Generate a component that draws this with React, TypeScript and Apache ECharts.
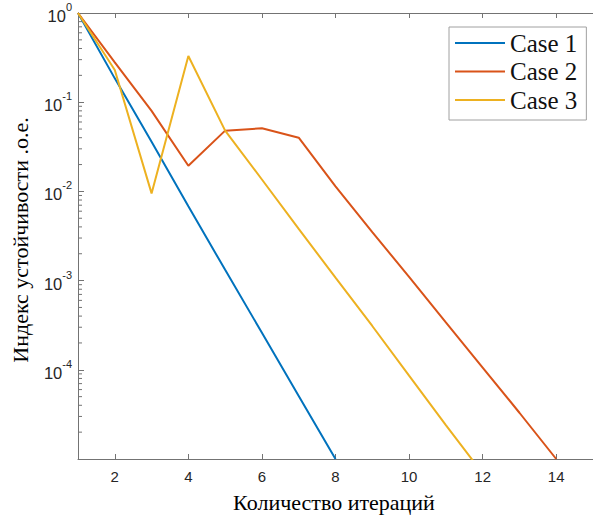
import React, { useEffect, useRef } from "react";
import * as echarts from "echarts";

const seriesNames = ["Case 1", "Case 2", "Case 3"];
const seriesColors = ["#0072BD", "#D95319", "#EDB120"];

const case1X = [1, 2, 3, 4, 5, 6, 7, 8];
const case1Y = [1, 0.185, 0.036, 0.0068, 0.00132, 0.00026, 5.1e-5, 1.0e-5];

const case2X = [1, 2, 3, 4, 5, 6, 7, 8, 9, 10, 11, 12, 13, 14];
const case2Y = [1, 0.28, 0.08, 0.0194, 0.048, 0.051, 0.04, 0.0114, 0.0035, 0.0011, 0.00034, 0.000106, 3.3e-5, 1.0e-5];

const case3X = [1, 2, 3, 4, 5, 6, 7, 8, 9, 10, 11, 12];
const case3Y = [1, 0.23, 0.0095, 0.33, 0.048, 0.0136, 0.0038, 0.00108, 0.00031, 8.6e-5, 2.4e-5, 6.9e-6];

const xTicks = [2, 4, 6, 8, 10, 12, 14];
const yDecades = [1e-5, 1e-4, 1e-3, 1e-2, 1e-1, 1];
const minorMultipliers = [2, 3, 4, 5, 6, 7, 8, 9];

const xTitle = "Количество итераций";
const yTitle = "Индекс устойчивости .о.е.";

const SERIF = "'Liberation Serif', 'Times New Roman', serif";

export default function App() {
  const ref = useRef<HTMLDivElement>(null);
  useEffect(() => {
    if (!ref.current) return;
    const chart = echarts.init(ref.current, null, { renderer: "svg" });
    const yMinor: number[] = [];
    for (let i = 0; i < yDecades.length - 1; i++) {
      for (const m of minorMultipliers) yMinor.push(yDecades[i] * m);
    }
    const axisColor = "#737373";
    const pair = (xs: number[], ys: number[]) => xs.map((x, i) => [x, ys[i]]);
    const datasets = [pair(case1X, case1Y), pair(case2X, case2Y), pair(case3X, case3Y)];
    const grid = { left: 78, top: 13, width: 521, height: 446 };
    chart.setOption({
      animation: false,
      backgroundColor: "#ffffff",
      grid,
      legend: {
        orient: "vertical",
        left: 449,
        top: 27,
        padding: [3.5, 9, 7.5, 6],
        itemGap: 3.5,
        itemWidth: 50,
        itemHeight: 2,
        icon: "rect",
        backgroundColor: "#ffffff",
        borderColor: "#a0a0a0",
        borderWidth: 1,
        textStyle: {
          fontFamily: SERIF,
          fontSize: 25,
          color: "#111",
        },
        data: seriesNames.map((n, i) => ({ name: n, itemStyle: { color: seriesColors[i] } })),
      },
      xAxis: [
        {
          type: "value",
          min: 1,
          max: 15,
          position: "bottom",
          axisLine: { show: true, lineStyle: { color: axisColor, width: 1 } },
          axisTick: { show: true, inside: true, length: 5, customValues: xTicks, lineStyle: { color: axisColor } },
          axisLabel: {
            customValues: xTicks,
            margin: 10,
            fontFamily: "Liberation Sans",
            fontSize: 15,
            color: "#262626",
          },
          splitLine: { show: false },
        },
        {
          type: "value",
          min: 1,
          max: 15,
          position: "top",
          axisLine: { show: true, onZero: false, lineStyle: { color: axisColor, width: 1 } },
          axisTick: { show: true, inside: true, length: 5, customValues: xTicks, lineStyle: { color: axisColor } },
          axisLabel: { show: false },
          splitLine: { show: false },
        },
      ],
      yAxis: [
        {
          type: "log",
          logBase: 10,
          min: 1e-5,
          max: 1,
          position: "left",
          axisLine: { show: true, onZero: false, lineStyle: { color: axisColor, width: 1 } },
          axisTick: { show: true, inside: true, length: 6, lineStyle: { color: axisColor, width: 1 } },
          axisLabel: {
            showMinLabel: false,
            margin: 6,
            color: "#262626",
            formatter: (v: number) => {
              const e = Math.round(Math.log10(v));
              if (e === -5) return "";
              return `{b|10}{s|${e}}`;
            },
            rich: {
              b: { fontFamily: "Liberation Sans", fontSize: 16.5, color: "#262626", lineHeight: 16, verticalAlign: "bottom" },
              s: { fontFamily: "Liberation Sans", fontSize: 11, color: "#262626", lineHeight: 23, verticalAlign: "top" },
            },
          },
          splitLine: { show: false },
        },
      ],
      series: [
        ...datasets.map((d, i) => ({
          name: seriesNames[i],
          type: "line",
          xAxisIndex: 0,
          yAxisIndex: 0,
          data: d,
          symbol: "none",
          clip: true,
          lineStyle: { color: seriesColors[i], width: 2 },
          itemStyle: { color: seriesColors[i] },
          z: 3,
        })),
        {
          name: "minorTicks",
          type: "custom",
          xAxisIndex: 0,
          yAxisIndex: 0,
          silent: true,
          z: 1,
          data: yMinor.map((v) => [1, v]),
          renderItem: (_params: any, api: any) => {
            const p = api.coord([api.value(0), api.value(1)]);
            return {
              type: "line",
              shape: { x1: p[0], y1: p[1], x2: p[0] + 4, y2: p[1] },
              style: { stroke: axisColor, lineWidth: 1 },
            };
          },
        },
      ],
      graphic: [
        {
          type: "text",
          x: 334,
          y: 502,
          style: {
            text: xTitle,
            font: "22px 'Liberation Serif'",
            fill: "#000",
            textAlign: "center",
            textVerticalAlign: "middle",
          },
        },
        {
          type: "text",
          x: 20,
          y: 240,
          rotation: Math.PI / 2,
          style: {
            text: yTitle,
            font: "22px 'Liberation Serif'",
            fill: "#000",
            textAlign: "center",
            textVerticalAlign: "middle",
          },
        },
      ],
    });
    return () => chart.dispose();
  }, []);
  return (
    <div
      ref={ref}
      style={{ position: "absolute", left: 0, top: 0, width: 593, height: 517, background: "#fff" }}
    />
  );
}
